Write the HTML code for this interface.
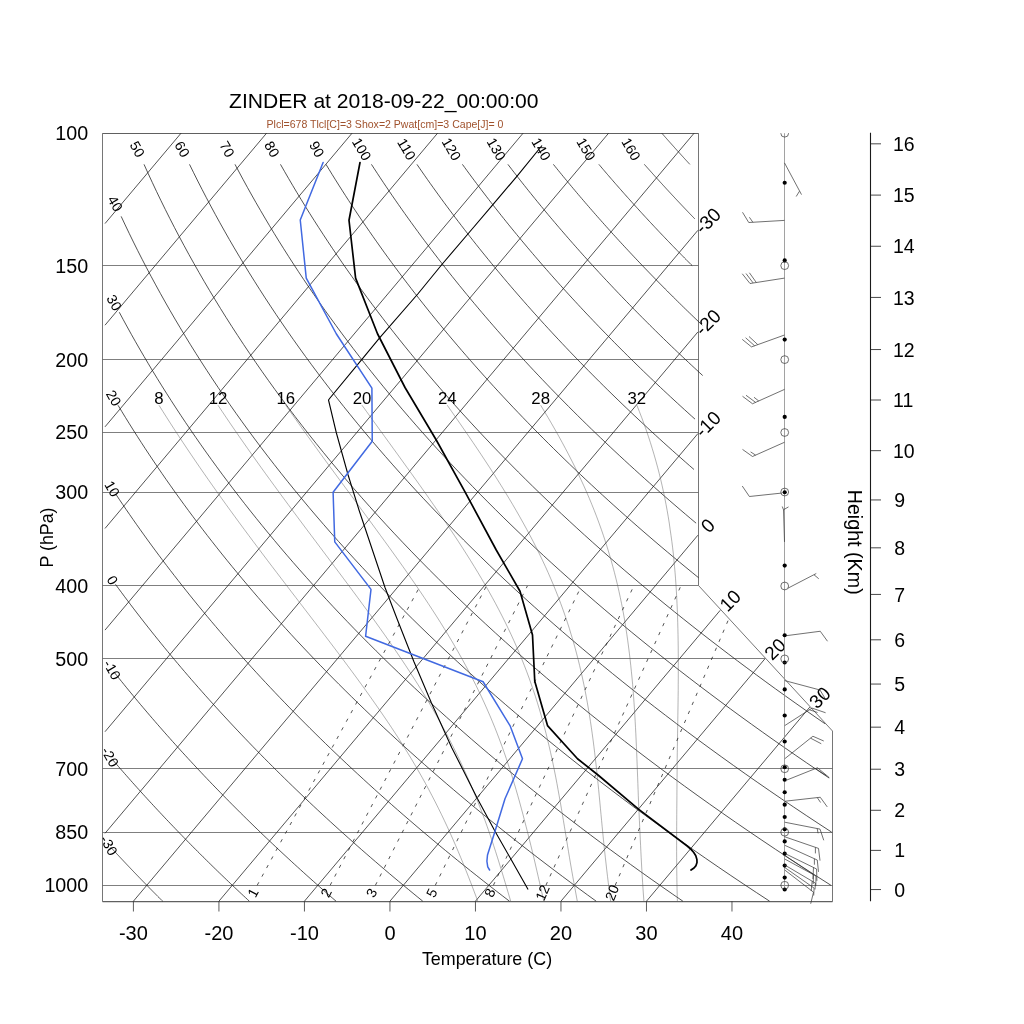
<!DOCTYPE html>
<html><head><meta charset="utf-8"><title>Skew-T</title><style>html,body{margin:0;padding:0;background:#fff;width:1024px;height:1024px;overflow:hidden}svg text{font-family:"Liberation Sans",sans-serif}svg text{filter:grayscale(1)}svg text.c{filter:brightness(1)}</style></head><body>
<svg width="1024" height="1024" viewBox="0 0 1024 1024" style="position:absolute;left:0;top:0;font-family:'Liberation Sans',sans-serif">
<path d="M102.50,901.50 L102.50,133.50 L698.50,133.50 L698.50,585.50 L832.50,731.03 L832.50,901.50 L102.50,901.50" fill="none" stroke="#666" stroke-width="0.9"/>
<path d="M102.50,901.75 L832.50,901.75" fill="none" stroke="#555" stroke-width="0.9"/>
<path d="M102.50,885.50 L832.50,885.50" fill="none" stroke="#5a5a5a" stroke-width="0.78"/>
<text x="88.20" y="885.26" font-size="19.7" text-anchor="end" fill="#000" dominant-baseline="central">1000</text>
<path d="M102.50,832.50 L832.50,832.50" fill="none" stroke="#5a5a5a" stroke-width="0.78"/>
<text x="88.20" y="832.18" font-size="19.7" text-anchor="end" fill="#000" dominant-baseline="central">850</text>
<path d="M102.50,768.50 L832.50,768.50" fill="none" stroke="#5a5a5a" stroke-width="0.78"/>
<text x="88.20" y="768.77" font-size="19.7" text-anchor="end" fill="#000" dominant-baseline="central">700</text>
<path d="M102.50,658.50 L764.88,658.50" fill="none" stroke="#5a5a5a" stroke-width="0.78"/>
<text x="88.20" y="658.88" font-size="19.7" text-anchor="end" fill="#000" dominant-baseline="central">500</text>
<path d="M102.50,585.50 L698.50,585.50" fill="none" stroke="#5a5a5a" stroke-width="0.78"/>
<text x="88.20" y="585.99" font-size="19.7" text-anchor="end" fill="#000" dominant-baseline="central">400</text>
<path d="M102.50,492.50 L698.50,492.50" fill="none" stroke="#5a5a5a" stroke-width="0.78"/>
<text x="88.20" y="492.03" font-size="19.7" text-anchor="end" fill="#000" dominant-baseline="central">300</text>
<path d="M102.50,432.50 L698.50,432.50" fill="none" stroke="#5a5a5a" stroke-width="0.78"/>
<text x="88.20" y="432.49" font-size="19.7" text-anchor="end" fill="#000" dominant-baseline="central">250</text>
<path d="M102.50,359.50 L698.50,359.50" fill="none" stroke="#5a5a5a" stroke-width="0.78"/>
<text x="88.20" y="359.61" font-size="19.7" text-anchor="end" fill="#000" dominant-baseline="central">200</text>
<path d="M102.50,265.50 L698.50,265.50" fill="none" stroke="#5a5a5a" stroke-width="0.78"/>
<text x="88.20" y="265.65" font-size="19.7" text-anchor="end" fill="#000" dominant-baseline="central">150</text>
<path d="M102.50,133.50 L698.50,133.50" fill="none" stroke="#5a5a5a" stroke-width="0.78"/>
<text x="88.20" y="133.22" font-size="19.7" text-anchor="end" fill="#000" dominant-baseline="central">100</text>
<path d="M105.00,223.57 L181.04,133.20" fill="none" stroke="#1a1a1a" stroke-width="0.75"/>
<path d="M105.00,325.20 L266.55,133.20" fill="none" stroke="#1a1a1a" stroke-width="0.75"/>
<path d="M105.00,426.83 L352.06,133.20" fill="none" stroke="#1a1a1a" stroke-width="0.75"/>
<path d="M105.00,528.46 L437.57,133.20" fill="none" stroke="#1a1a1a" stroke-width="0.75"/>
<path d="M105.00,630.09 L523.08,133.20" fill="none" stroke="#1a1a1a" stroke-width="0.75"/>
<path d="M105.00,731.72 L608.59,133.20" fill="none" stroke="#1a1a1a" stroke-width="0.75"/>
<path d="M105.00,833.34 L694.10,133.20" fill="none" stroke="#1a1a1a" stroke-width="0.75"/>
<path d="M133.42,901.20 L697.90,230.31" fill="none" stroke="#1a1a1a" stroke-width="0.75"/>
<text x="707.90" y="220.81" font-size="19" text-anchor="middle" fill="#000" dominant-baseline="central" transform="rotate(-45.0 707.90 220.81)">-30</text>
<path d="M218.93,901.20 L697.90,331.94" fill="none" stroke="#1a1a1a" stroke-width="0.75"/>
<text x="707.90" y="322.44" font-size="19" text-anchor="middle" fill="#000" dominant-baseline="central" transform="rotate(-45.0 707.90 322.44)">-20</text>
<path d="M304.44,901.20 L697.90,433.57" fill="none" stroke="#1a1a1a" stroke-width="0.75"/>
<text x="707.90" y="424.07" font-size="19" text-anchor="middle" fill="#000" dominant-baseline="central" transform="rotate(-45.0 707.90 424.07)">-10</text>
<path d="M389.95,901.20 L697.90,535.19" fill="none" stroke="#1a1a1a" stroke-width="0.75"/>
<text x="707.90" y="525.69" font-size="19" text-anchor="middle" fill="#000" dominant-baseline="central" transform="rotate(-45.0 707.90 525.69)">0</text>
<path d="M475.46,901.20 L720.27,610.24" fill="none" stroke="#1a1a1a" stroke-width="0.75"/>
<text x="730.27" y="600.74" font-size="19" text-anchor="middle" fill="#000" dominant-baseline="central" transform="rotate(-45.0 730.27 600.74)">10</text>
<path d="M560.96,901.20 L765.04,658.66" fill="none" stroke="#1a1a1a" stroke-width="0.75"/>
<text x="775.04" y="649.16" font-size="19" text-anchor="middle" fill="#000" dominant-baseline="central" transform="rotate(-45.0 775.04 649.16)">20</text>
<path d="M646.47,901.20 L809.80,707.08" fill="none" stroke="#1a1a1a" stroke-width="0.75"/>
<text x="819.80" y="697.58" font-size="19" text-anchor="middle" fill="#000" dominant-baseline="central" transform="rotate(-45.0 819.80 697.58)">30</text>
<path d="M110.69,847.20 L111.32,847.88 L111.94,848.55 L112.56,849.23 L113.18,849.90 L113.81,850.58 L114.43,851.25 L115.06,851.93 L115.68,852.60 L116.31,853.28 L116.94,853.95 L117.56,854.63 L118.19,855.30 L118.82,855.98 L119.45,856.65 L120.08,857.33 L120.72,858.00 L121.35,858.68 L121.98,859.35 L122.61,860.03 L123.25,860.70 L123.88,861.38 L124.52,862.05 L125.16,862.73 L125.79,863.40 L126.43,864.08 L127.07,864.75 L127.71,865.43 L128.35,866.10 L128.99,866.78 L129.63,867.45 L130.28,868.13 L130.92,868.80 L131.56,869.48 L132.21,870.15 L132.85,870.83 L133.50,871.50 L134.14,872.18 L134.79,872.85 L135.44,873.53 L136.09,874.20 L136.74,874.88 L137.39,875.55 L138.04,876.23 L138.69,876.90 L139.34,877.58 L140.00,878.25 L140.65,878.93 L141.30,879.60 L141.96,880.28 L142.62,880.95 L143.27,881.63 L143.93,882.30 L144.59,882.98 L145.25,883.65 L145.91,884.33 L146.57,885.00 L147.23,885.68 L147.89,886.35 L148.55,887.03 L149.21,887.70 L149.88,888.38 L150.54,889.05 L151.21,889.73 L151.87,890.40 L152.54,891.08 L153.21,891.75 L153.88,892.43 L154.55,893.10 L155.22,893.78 L155.89,894.45 L156.56,895.13 L157.23,895.80 L157.90,896.48 L158.58,897.15 L159.25,897.83 L159.93,898.50 L160.60,899.18 L161.28,899.85 L161.95,900.53 L162.63,901.20" fill="none" stroke="#1a1a1a" stroke-width="0.75"/>
<text x="109.01" y="845.36" font-size="14.1" text-anchor="middle" fill="#000" dominant-baseline="central" transform="rotate(60.0 109.01 845.36)">-30</text>
<path d="M112.25,759.30 L113.77,761.08 L115.30,762.85 L116.83,764.62 L118.36,766.40 L119.90,768.17 L121.45,769.95 L123.00,771.72 L124.55,773.49 L126.11,775.27 L127.67,777.04 L129.24,778.81 L130.81,780.59 L132.39,782.36 L133.97,784.14 L135.56,785.91 L137.15,787.68 L138.75,789.46 L140.35,791.23 L141.96,793.00 L143.57,794.78 L145.18,796.55 L146.80,798.32 L148.43,800.10 L150.06,801.87 L151.70,803.65 L153.34,805.42 L154.98,807.19 L156.63,808.97 L158.29,810.74 L159.95,812.51 L161.61,814.29 L163.28,816.06 L164.95,817.84 L166.63,819.61 L168.32,821.38 L170.01,823.16 L171.70,824.93 L173.40,826.70 L175.11,828.48 L176.81,830.25 L178.53,832.03 L180.25,833.80 L181.97,835.57 L183.70,837.35 L185.44,839.12 L187.17,840.89 L188.92,842.67 L190.67,844.44 L192.42,846.22 L194.18,847.99 L195.95,849.76 L197.71,851.54 L199.49,853.31 L201.27,855.08 L203.05,856.86 L204.84,858.63 L206.64,860.40 L208.44,862.18 L210.24,863.95 L212.05,865.73 L213.87,867.50 L215.69,869.27 L217.51,871.05 L219.34,872.82 L221.18,874.59 L223.02,876.37 L224.87,878.14 L226.72,879.92 L228.58,881.69 L230.44,883.46 L232.30,885.24 L234.18,887.01 L236.05,888.78 L237.94,890.56 L239.82,892.33 L241.72,894.11 L243.62,895.88 L245.52,897.65 L247.43,899.43 L249.34,901.20" fill="none" stroke="#1a1a1a" stroke-width="0.75"/>
<text x="110.19" y="756.89" font-size="14.1" text-anchor="middle" fill="#000" dominant-baseline="central" transform="rotate(60.0 110.19 756.89)">-20</text>
<path d="M114.72,672.94 L116.99,675.79 L119.27,678.65 L121.57,681.50 L123.88,684.35 L126.20,687.21 L128.53,690.06 L130.88,692.91 L133.23,695.77 L135.60,698.62 L137.98,701.47 L140.37,704.33 L142.77,707.18 L145.19,710.03 L147.62,712.89 L150.06,715.74 L152.51,718.59 L154.97,721.44 L157.45,724.30 L159.94,727.15 L162.44,730.00 L164.95,732.86 L167.48,735.71 L170.01,738.56 L172.56,741.42 L175.13,744.27 L177.70,747.12 L180.29,749.98 L182.89,752.83 L185.50,755.68 L188.12,758.54 L190.76,761.39 L193.41,764.24 L196.07,767.10 L198.75,769.95 L201.44,772.80 L204.14,775.66 L206.85,778.51 L209.57,781.36 L212.31,784.22 L215.07,787.07 L217.83,789.92 L220.61,792.78 L223.40,795.63 L226.20,798.48 L229.02,801.34 L231.85,804.19 L234.69,807.04 L237.55,809.90 L240.41,812.75 L243.30,815.60 L246.19,818.46 L249.10,821.31 L252.02,824.16 L254.96,827.02 L257.91,829.87 L260.87,832.72 L263.84,835.58 L266.83,838.43 L269.83,841.28 L272.85,844.13 L275.88,846.99 L278.92,849.84 L281.98,852.69 L285.05,855.55 L288.13,858.40 L291.23,861.25 L294.34,864.11 L297.47,866.96 L300.60,869.81 L303.76,872.67 L306.92,875.52 L310.10,878.37 L313.30,881.23 L316.51,884.08 L319.73,886.93 L322.97,889.79 L326.22,892.64 L329.48,895.49 L332.76,898.35 L336.05,901.20" fill="none" stroke="#1a1a1a" stroke-width="0.75"/>
<text x="112.23" y="669.80" font-size="14.1" text-anchor="middle" fill="#000" dominant-baseline="central" transform="rotate(60.0 112.23 669.80)">-10</text>
<path d="M115.50,584.36 L118.40,588.32 L121.33,592.28 L124.27,596.24 L127.24,600.20 L130.23,604.16 L133.24,608.12 L136.28,612.08 L139.33,616.04 L142.41,620.00 L145.51,623.96 L148.63,627.92 L151.78,631.88 L154.94,635.84 L158.13,639.81 L161.35,643.77 L164.58,647.73 L167.84,651.69 L171.12,655.65 L174.43,659.61 L177.75,663.57 L181.10,667.53 L184.48,671.49 L187.87,675.45 L191.29,679.41 L194.74,683.37 L198.21,687.33 L201.70,691.29 L205.21,695.25 L208.75,699.21 L212.31,703.17 L215.90,707.13 L219.51,711.09 L223.14,715.06 L226.80,719.02 L230.48,722.98 L234.19,726.94 L237.92,730.90 L241.68,734.86 L245.46,738.82 L249.26,742.78 L253.09,746.74 L256.95,750.70 L260.83,754.66 L264.73,758.62 L268.66,762.58 L272.62,766.54 L276.60,770.50 L280.61,774.46 L284.64,778.42 L288.70,782.38 L292.78,786.34 L296.89,790.31 L301.02,794.27 L305.18,798.23 L309.37,802.19 L313.58,806.15 L317.82,810.11 L322.09,814.07 L326.38,818.03 L330.70,821.99 L335.04,825.95 L339.41,829.91 L343.81,833.87 L348.24,837.83 L352.69,841.79 L357.17,845.75 L361.67,849.71 L366.21,853.67 L370.77,857.63 L375.36,861.59 L379.97,865.56 L384.61,869.52 L389.29,873.48 L393.98,877.44 L398.71,881.40 L403.47,885.36 L408.25,889.32 L413.06,893.28 L417.90,897.24 L422.77,901.20" fill="none" stroke="#1a1a1a" stroke-width="0.75"/>
<text x="112.50" y="580.23" font-size="14.1" text-anchor="middle" fill="#000" dominant-baseline="central" transform="rotate(60.0 112.50 580.23)">0</text>
<path d="M115.84,494.21 L119.24,499.29 L122.67,504.38 L126.13,509.47 L129.63,514.55 L133.16,519.64 L136.73,524.73 L140.33,529.82 L143.97,534.90 L147.64,539.99 L151.35,545.08 L155.10,550.17 L158.88,555.25 L162.70,560.34 L166.55,565.43 L170.44,570.52 L174.36,575.60 L178.33,580.69 L182.32,585.78 L186.36,590.87 L190.43,595.95 L194.54,601.04 L198.69,606.13 L202.88,611.22 L207.10,616.30 L211.36,621.39 L215.66,626.48 L220.00,631.57 L224.38,636.65 L228.79,641.74 L233.24,646.83 L237.74,651.92 L242.27,657.00 L246.84,662.09 L251.45,667.18 L256.10,672.27 L260.79,677.35 L265.52,682.44 L270.29,687.53 L275.10,692.62 L279.95,697.70 L284.85,702.79 L289.78,707.88 L294.75,712.96 L299.77,718.05 L304.83,723.14 L309.93,728.23 L315.07,733.31 L320.25,738.40 L325.48,743.49 L330.74,748.58 L336.05,753.66 L341.41,758.75 L346.80,763.84 L352.24,768.93 L357.72,774.01 L363.25,779.10 L368.82,784.19 L374.43,789.28 L380.09,794.36 L385.80,799.45 L391.54,804.54 L397.33,809.63 L403.17,814.71 L409.05,819.80 L414.98,824.89 L420.95,829.98 L426.97,835.06 L433.04,840.15 L439.15,845.24 L445.31,850.33 L451.51,855.41 L457.76,860.50 L464.06,865.59 L470.40,870.68 L476.80,875.76 L483.24,880.85 L489.72,885.94 L496.26,891.03 L502.84,896.11 L509.48,901.20" fill="none" stroke="#1a1a1a" stroke-width="0.75"/>
<text x="112.24" y="488.75" font-size="14.1" text-anchor="middle" fill="#000" dominant-baseline="central" transform="rotate(60.0 112.24 488.75)">10</text>
<path d="M118.03,405.25 L121.77,411.45 L125.57,417.65 L129.41,423.85 L133.30,430.05 L137.25,436.25 L141.24,442.45 L145.28,448.65 L149.38,454.85 L153.52,461.05 L157.72,467.25 L161.96,473.45 L166.26,479.65 L170.61,485.84 L175.01,492.04 L179.46,498.24 L183.97,504.44 L188.53,510.64 L193.14,516.84 L197.81,523.04 L202.53,529.24 L207.30,535.44 L212.13,541.64 L217.01,547.84 L221.95,554.04 L226.95,560.24 L232.00,566.44 L237.10,572.64 L242.26,578.83 L247.48,585.03 L252.75,591.23 L258.08,597.43 L263.47,603.63 L268.92,609.83 L274.42,616.03 L279.99,622.23 L285.61,628.43 L291.29,634.63 L297.03,640.83 L302.83,647.03 L308.69,653.23 L314.61,659.43 L320.59,665.63 L326.63,671.82 L332.73,678.02 L338.90,684.22 L345.12,690.42 L351.41,696.62 L357.76,702.82 L364.18,709.02 L370.65,715.22 L377.19,721.42 L383.80,727.62 L390.47,733.82 L397.20,740.02 L404.00,746.22 L410.87,752.42 L417.80,758.62 L424.79,764.81 L431.86,771.01 L438.98,777.21 L446.18,783.41 L453.45,789.61 L460.78,795.81 L468.18,802.01 L475.65,808.21 L483.19,814.41 L490.79,820.61 L498.47,826.81 L506.22,833.01 L514.04,839.21 L521.93,845.41 L529.89,851.61 L537.92,857.80 L546.03,864.00 L554.20,870.20 L562.45,876.40 L570.78,882.60 L579.17,888.80 L587.64,895.00 L596.19,901.20" fill="none" stroke="#1a1a1a" stroke-width="0.75"/>
<text x="113.75" y="398.08" font-size="14.1" text-anchor="middle" fill="#000" dominant-baseline="central" transform="rotate(60.0 113.75 398.08)">20</text>
<path d="M119.27,312.24 L123.23,319.60 L127.25,326.96 L131.34,334.33 L135.49,341.69 L139.71,349.05 L144.00,356.41 L148.36,363.77 L152.78,371.14 L157.27,378.50 L161.84,385.86 L166.47,393.22 L171.17,400.58 L175.94,407.95 L180.79,415.31 L185.70,422.67 L190.69,430.03 L195.75,437.39 L200.88,444.76 L206.09,452.12 L211.36,459.48 L216.72,466.84 L222.14,474.20 L227.65,481.57 L233.23,488.93 L238.88,496.29 L244.61,503.65 L250.42,511.01 L256.31,518.38 L262.27,525.74 L268.31,533.10 L274.44,540.46 L280.64,547.82 L286.92,555.19 L293.28,562.55 L299.72,569.91 L306.25,577.27 L312.86,584.63 L319.55,592.00 L326.32,599.36 L333.18,606.72 L340.12,614.08 L347.15,621.44 L354.26,628.81 L361.46,636.17 L368.75,643.53 L376.12,650.89 L383.58,658.25 L391.13,665.62 L398.76,672.98 L406.49,680.34 L414.31,687.70 L422.21,695.06 L430.21,702.43 L438.30,709.79 L446.49,717.15 L454.76,724.51 L463.13,731.87 L471.60,739.24 L480.15,746.60 L488.81,753.96 L497.56,761.32 L506.40,768.68 L515.35,776.05 L524.39,783.41 L533.53,790.77 L542.77,798.13 L552.11,805.49 L561.55,812.86 L571.09,820.22 L580.73,827.58 L590.48,834.94 L600.32,842.30 L610.28,849.67 L620.33,857.03 L630.49,864.39 L640.76,871.75 L651.13,879.11 L661.61,886.48 L672.20,893.84 L682.90,901.20" fill="none" stroke="#1a1a1a" stroke-width="0.75"/>
<text x="114.22" y="302.66" font-size="14.1" text-anchor="middle" fill="#000" dominant-baseline="central" transform="rotate(60.0 114.22 302.66)">30</text>
<path d="M121.17,216.39 L125.18,224.95 L129.28,233.51 L133.46,242.07 L137.73,250.63 L142.09,259.19 L146.53,267.75 L151.06,276.31 L155.68,284.87 L160.38,293.43 L165.18,301.99 L170.07,310.55 L175.04,319.11 L180.11,327.67 L185.27,336.23 L190.53,344.79 L195.88,353.35 L201.32,361.91 L206.86,370.47 L212.49,379.03 L218.22,387.59 L224.05,396.15 L229.98,404.71 L236.00,413.27 L242.13,421.83 L248.35,430.39 L254.68,438.95 L261.10,447.51 L267.63,456.07 L274.27,464.63 L281.00,473.19 L287.84,481.75 L294.79,490.31 L301.85,498.87 L309.01,507.43 L316.28,515.99 L323.66,524.55 L331.14,533.11 L338.74,541.67 L346.45,550.23 L354.27,558.79 L362.21,567.35 L370.26,575.91 L378.42,584.47 L386.70,593.03 L395.10,601.59 L403.61,610.15 L412.24,618.71 L420.99,627.27 L429.86,635.83 L438.86,644.39 L447.97,652.95 L457.21,661.52 L466.57,670.08 L476.05,678.64 L485.66,687.20 L495.40,695.76 L505.26,704.32 L515.25,712.88 L525.38,721.44 L535.63,730.00 L546.01,738.56 L556.53,747.12 L567.18,755.68 L577.96,764.24 L588.88,772.80 L599.93,781.36 L611.13,789.92 L622.46,798.48 L633.93,807.04 L645.54,815.60 L657.29,824.16 L669.19,832.72 L681.23,841.28 L693.41,849.84 L705.74,858.40 L718.21,866.96 L730.84,875.52 L743.61,884.08 L756.54,892.64 L769.61,901.20" fill="none" stroke="#1a1a1a" stroke-width="0.75"/>
<text x="115.27" y="203.47" font-size="14.1" text-anchor="middle" fill="#000" dominant-baseline="central" transform="rotate(60.0 115.27 203.47)">40</text>
<path d="M144.03,164.35 L148.09,173.36 L152.25,182.37 L156.49,191.38 L160.83,200.39 L165.27,209.40 L169.80,218.42 L174.43,227.43 L179.15,236.44 L183.97,245.45 L188.89,254.46 L193.91,263.47 L199.03,272.48 L204.24,281.50 L209.56,290.51 L214.99,299.52 L220.51,308.53 L226.14,317.54 L231.87,326.55 L237.71,335.56 L243.66,344.58 L249.71,353.59 L255.87,362.60 L262.14,371.61 L268.52,380.62 L275.01,389.63 L281.61,398.64 L288.32,407.66 L295.15,416.67 L302.09,425.68 L309.15,434.69 L316.32,443.70 L323.61,452.71 L331.01,461.73 L338.54,470.74 L346.19,479.75 L353.95,488.76 L361.84,497.77 L369.85,506.78 L377.98,515.79 L386.24,524.81 L394.62,533.82 L403.13,542.83 L411.77,551.84 L420.54,560.85 L429.43,569.86 L438.46,578.87 L447.61,587.89 L456.91,596.90 L466.33,605.91 L475.89,614.92 L485.58,623.93 L495.41,632.94 L505.38,641.95 L515.49,650.97 L525.74,659.98 L536.13,668.99 L546.66,678.00 L557.34,687.01 L568.16,696.02 L579.12,705.04 L590.23,714.05 L601.50,723.06 L612.91,732.07 L624.47,741.08 L636.18,750.09 L648.04,759.10 L660.06,768.12 L672.24,777.13 L684.57,786.14 L697.06,795.15 L709.71,804.16 L722.51,813.17 L735.48,822.18 L748.62,831.20 L761.91,840.21 L775.37,849.22 L789.00,858.23 L802.80,867.24 L816.77,876.25 L830.90,885.26" fill="none" stroke="#1a1a1a" stroke-width="0.75"/>
<text x="137.39" y="149.15" font-size="14.1" text-anchor="middle" fill="#000" dominant-baseline="central" transform="rotate(60.0 137.39 149.15)">50</text>
<path d="M189.51,164.35 L193.61,172.69 L197.78,181.04 L202.04,189.39 L206.38,197.74 L210.80,206.09 L215.31,214.43 L219.90,222.78 L224.58,231.13 L229.34,239.48 L234.19,247.83 L239.13,256.17 L244.15,264.52 L249.26,272.87 L254.47,281.22 L259.76,289.57 L265.14,297.91 L270.61,306.26 L276.18,314.61 L281.83,322.96 L287.58,331.31 L293.43,339.65 L299.36,348.00 L305.40,356.35 L311.53,364.70 L317.75,373.05 L324.07,381.39 L330.49,389.74 L337.01,398.09 L343.63,406.44 L350.35,414.79 L357.17,423.13 L364.09,431.48 L371.11,439.83 L378.24,448.18 L385.47,456.53 L392.81,464.87 L400.25,473.22 L407.79,481.57 L415.45,489.92 L423.21,498.27 L431.08,506.61 L439.05,514.96 L447.14,523.31 L455.34,531.66 L463.65,540.01 L472.08,548.35 L480.61,556.70 L489.26,565.05 L498.03,573.40 L506.91,581.75 L515.91,590.09 L525.03,598.44 L534.26,606.79 L543.62,615.14 L553.09,623.48 L562.69,631.83 L572.40,640.18 L582.24,648.53 L592.21,656.88 L602.29,665.22 L612.51,673.57 L622.85,681.92 L633.32,690.27 L643.91,698.62 L654.64,706.96 L665.49,715.31 L676.48,723.66 L687.60,732.01 L698.85,740.36 L710.24,748.70 L721.76,757.05 L733.42,765.40 L745.21,773.75 L757.14,782.10 L769.21,790.44 L781.42,798.79 L793.78,807.14 L806.27,815.49 L818.91,823.84 L831.69,832.18" fill="none" stroke="#1a1a1a" stroke-width="0.75"/>
<text x="182.27" y="149.15" font-size="14.1" text-anchor="middle" fill="#000" dominant-baseline="central" transform="rotate(60.0 182.27 149.15)">60</text>
<path d="M235.00,164.35 L239.06,172.02 L243.20,179.69 L247.40,187.36 L251.68,195.03 L256.03,202.70 L260.46,210.37 L264.96,218.04 L269.53,225.71 L274.17,233.38 L278.89,241.05 L283.69,248.72 L288.56,256.39 L293.51,264.06 L298.53,271.73 L303.63,279.40 L308.81,287.07 L314.07,294.74 L319.41,302.41 L324.82,310.08 L330.32,317.75 L335.90,325.42 L341.55,333.09 L347.29,340.76 L353.11,348.43 L359.02,356.10 L365.01,363.77 L371.08,371.44 L377.23,379.12 L383.47,386.79 L389.80,394.46 L396.21,402.13 L402.71,409.80 L409.30,417.47 L415.97,425.14 L422.74,432.81 L429.59,440.48 L436.53,448.15 L443.56,455.82 L450.69,463.49 L457.90,471.16 L465.21,478.83 L472.61,486.50 L480.10,494.17 L487.69,501.84 L495.37,509.51 L503.14,517.18 L511.02,524.85 L518.98,532.52 L527.05,540.19 L535.21,547.86 L543.48,555.53 L551.84,563.20 L560.30,570.87 L568.86,578.54 L577.52,586.21 L586.29,593.88 L595.16,601.55 L604.13,609.22 L613.20,616.90 L622.38,624.57 L631.67,632.24 L641.06,639.91 L650.56,647.58 L660.16,655.25 L669.87,662.92 L679.70,670.59 L689.63,678.26 L699.67,685.93 L709.83,693.60 L720.09,701.27 L730.47,708.94 L740.96,716.61 L751.57,724.28 L762.29,731.95 L773.12,739.62 L784.08,747.29 L795.15,754.96 L806.34,762.63 L817.64,770.30 L829.07,777.97" fill="none" stroke="#1a1a1a" stroke-width="0.75"/>
<text x="227.15" y="149.15" font-size="14.1" text-anchor="middle" fill="#000" dominant-baseline="central" transform="rotate(60.0 227.15 149.15)">70</text>
<path d="M280.48,164.35 L284.46,171.34 L288.51,178.33 L292.61,185.33 L296.78,192.32 L301.00,199.31 L305.29,206.31 L309.64,213.30 L314.06,220.29 L318.54,227.29 L323.08,234.28 L327.68,241.27 L332.35,248.27 L337.09,255.26 L341.89,262.25 L346.75,269.25 L351.69,276.24 L356.68,283.24 L361.75,290.23 L366.88,297.22 L372.08,304.22 L377.35,311.21 L382.69,318.20 L388.09,325.20 L393.57,332.19 L399.11,339.18 L404.73,346.18 L410.41,353.17 L416.17,360.16 L422.00,367.16 L427.90,374.15 L433.87,381.14 L439.91,388.14 L446.03,395.13 L452.22,402.12 L458.49,409.12 L464.83,416.11 L471.25,423.10 L477.74,430.10 L484.31,437.09 L490.95,444.08 L497.67,451.08 L504.47,458.07 L511.35,465.06 L518.30,472.06 L525.33,479.05 L532.45,486.05 L539.64,493.04 L546.91,500.03 L554.27,507.03 L561.70,514.02 L569.22,521.01 L576.82,528.01 L584.50,535.00 L592.27,541.99 L600.12,548.99 L608.05,555.98 L616.07,562.97 L624.17,569.97 L632.36,576.96 L640.64,583.95 L649.00,590.95 L657.45,597.94 L665.99,604.93 L674.62,611.93 L683.34,618.92 L692.14,625.91 L701.04,632.91 L710.03,639.90 L719.11,646.89 L728.28,653.89 L737.54,660.88 L746.90,667.87 L756.35,674.87 L765.89,681.86 L775.53,688.86 L785.27,695.85 L795.10,702.84 L805.02,709.84 L815.05,716.83 L825.17,723.82" fill="none" stroke="#1a1a1a" stroke-width="0.75"/>
<text x="272.04" y="149.15" font-size="14.1" text-anchor="middle" fill="#000" dominant-baseline="central" transform="rotate(60.0 272.04 149.15)">80</text>
<path d="M325.97,164.35 L329.11,169.51 L332.28,174.68 L335.50,179.85 L338.74,185.02 L342.02,190.18 L345.34,195.35 L348.68,200.52 L352.07,205.68 L355.49,210.85 L358.94,216.02 L362.43,221.19 L365.96,226.35 L369.52,231.52 L373.11,236.69 L376.75,241.85 L380.42,247.02 L384.12,252.19 L387.86,257.36 L391.64,262.52 L395.46,267.69 L399.31,272.86 L403.20,278.03 L407.13,283.19 L411.09,288.36 L415.09,293.53 L419.13,298.69 L423.21,303.86 L427.33,309.03 L431.48,314.20 L435.68,319.36 L439.91,324.53 L444.18,329.70 L448.49,334.87 L452.84,340.03 L457.23,345.20 L461.65,350.37 L466.12,355.53 L470.63,360.70 L475.18,365.87 L479.77,371.04 L484.40,376.20 L489.07,381.37 L493.78,386.54 L498.53,391.71 L503.32,396.87 L508.16,402.04 L513.03,407.21 L517.95,412.37 L522.91,417.54 L527.91,422.71 L532.96,427.88 L538.04,433.04 L543.17,438.21 L548.35,443.38 L553.56,448.54 L558.82,453.71 L564.13,458.88 L569.47,464.05 L574.86,469.21 L580.30,474.38 L585.78,479.55 L591.30,484.72 L596.87,489.88 L602.48,495.05 L608.14,500.22 L613.85,505.38 L619.60,510.55 L625.39,515.72 L631.23,520.89 L637.12,526.05 L643.06,531.22 L649.04,536.39 L655.06,541.56 L661.14,546.72 L667.26,551.89 L673.43,557.06 L679.65,562.22 L685.91,567.39 L692.23,572.56 L698.59,577.73" fill="none" stroke="#1a1a1a" stroke-width="0.75"/>
<text x="316.92" y="149.15" font-size="14.1" text-anchor="middle" fill="#000" dominant-baseline="central" transform="rotate(60.0 316.92 149.15)">90</text>
<path d="M371.45,164.35 L374.35,168.83 L377.29,173.32 L380.24,177.80 L383.23,182.29 L386.24,186.77 L389.28,191.26 L392.34,195.74 L395.43,200.23 L398.55,204.71 L401.70,209.20 L404.87,213.68 L408.07,218.17 L411.30,222.65 L414.55,227.14 L417.83,231.62 L421.14,236.11 L424.48,240.60 L427.85,245.08 L431.24,249.57 L434.67,254.05 L438.12,258.54 L441.60,263.02 L445.10,267.51 L448.64,271.99 L452.21,276.48 L455.80,280.96 L459.42,285.45 L463.08,289.93 L466.76,294.42 L470.47,298.90 L474.21,303.39 L477.98,307.87 L481.78,312.36 L485.61,316.84 L489.47,321.33 L493.36,325.81 L497.28,330.30 L501.23,334.78 L505.21,339.27 L509.22,343.76 L513.26,348.24 L517.33,352.73 L521.43,357.21 L525.57,361.70 L529.73,366.18 L533.93,370.67 L538.16,375.15 L542.41,379.64 L546.71,384.12 L551.03,388.61 L555.38,393.09 L559.77,397.58 L564.19,402.06 L568.64,406.55 L573.12,411.03 L577.64,415.52 L582.18,420.00 L586.77,424.49 L591.38,428.97 L596.03,433.46 L600.71,437.94 L605.42,442.43 L610.17,446.92 L614.95,451.40 L619.76,455.89 L624.61,460.37 L629.49,464.86 L634.41,469.34 L639.36,473.83 L644.34,478.31 L649.36,482.80 L654.41,487.28 L659.50,491.77 L664.62,496.25 L669.78,500.74 L674.97,505.22 L680.20,509.71 L685.46,514.19 L690.76,518.68 L696.10,523.16" fill="none" stroke="#1a1a1a" stroke-width="0.75"/>
<text x="361.80" y="149.15" font-size="14.1" text-anchor="middle" fill="#000" dominant-baseline="central" transform="rotate(60.0 361.80 149.15)">100</text>
<path d="M416.93,164.35 L419.55,168.16 L422.19,171.98 L424.85,175.79 L427.53,179.60 L430.23,183.42 L432.95,187.23 L435.69,191.05 L438.45,194.86 L441.23,198.68 L444.03,202.49 L446.85,206.31 L449.69,210.12 L452.55,213.93 L455.43,217.75 L458.33,221.56 L461.25,225.38 L464.19,229.19 L467.15,233.01 L470.13,236.82 L473.14,240.64 L476.16,244.45 L479.21,248.26 L482.27,252.08 L485.36,255.89 L488.47,259.71 L491.60,263.52 L494.75,267.34 L497.92,271.15 L501.11,274.96 L504.32,278.78 L507.56,282.59 L510.82,286.41 L514.10,290.22 L517.40,294.04 L520.72,297.85 L524.06,301.67 L527.43,305.48 L530.82,309.29 L534.23,313.11 L537.66,316.92 L541.12,320.74 L544.59,324.55 L548.09,328.37 L551.61,332.18 L555.16,336.00 L558.72,339.81 L562.31,343.62 L565.93,347.44 L569.56,351.25 L573.22,355.07 L576.90,358.88 L580.60,362.70 L584.33,366.51 L588.08,370.33 L591.86,374.14 L595.65,377.95 L599.47,381.77 L603.32,385.58 L607.18,389.40 L611.08,393.21 L614.99,397.03 L618.93,400.84 L622.89,404.66 L626.88,408.47 L630.89,412.28 L634.92,416.10 L638.98,419.91 L643.07,423.73 L647.18,427.54 L651.31,431.36 L655.46,435.17 L659.65,438.99 L663.85,442.80 L668.08,446.61 L672.34,450.43 L676.62,454.24 L680.93,458.06 L685.26,461.87 L689.62,465.69 L694.00,469.50" fill="none" stroke="#1a1a1a" stroke-width="0.75"/>
<text x="406.68" y="149.15" font-size="14.1" text-anchor="middle" fill="#000" dominant-baseline="central" transform="rotate(60.0 406.68 149.15)">110</text>
<path d="M462.42,164.35 L464.73,167.53 L467.06,170.72 L469.40,173.90 L471.76,177.09 L474.13,180.27 L476.51,183.46 L478.91,186.64 L481.32,189.83 L483.75,193.01 L486.19,196.20 L488.65,199.38 L491.12,202.57 L493.60,205.75 L496.10,208.94 L498.61,212.12 L501.14,215.31 L503.68,218.49 L506.24,221.68 L508.81,224.86 L511.40,228.05 L514.00,231.23 L516.62,234.42 L519.25,237.60 L521.89,240.79 L524.55,243.97 L527.23,247.16 L529.92,250.34 L532.62,253.53 L535.34,256.71 L538.08,259.90 L540.83,263.08 L543.59,266.27 L546.37,269.45 L549.17,272.64 L551.98,275.82 L554.81,279.01 L557.65,282.19 L560.51,285.38 L563.38,288.57 L566.27,291.75 L569.17,294.94 L572.09,298.12 L575.03,301.31 L577.98,304.49 L580.94,307.68 L583.92,310.86 L586.92,314.05 L589.94,317.23 L592.97,320.42 L596.01,323.60 L599.07,326.79 L602.15,329.97 L605.25,333.16 L608.36,336.34 L611.48,339.53 L614.62,342.71 L617.78,345.90 L620.96,349.08 L624.15,352.27 L627.36,355.45 L630.58,358.64 L633.82,361.82 L637.08,365.01 L640.35,368.19 L643.64,371.38 L646.95,374.56 L650.27,377.75 L653.62,380.93 L656.97,384.12 L660.35,387.30 L663.74,390.49 L667.15,393.67 L670.57,396.86 L674.01,400.04 L677.47,403.23 L680.95,406.41 L684.44,409.60 L687.95,412.78 L691.48,415.97 L695.03,419.15" fill="none" stroke="#1a1a1a" stroke-width="0.75"/>
<text x="451.57" y="149.15" font-size="14.1" text-anchor="middle" fill="#000" dominant-baseline="central" transform="rotate(60.0 451.57 149.15)">120</text>
<path d="M507.90,164.35 L509.92,166.99 L511.95,169.63 L514.00,172.27 L516.05,174.91 L518.11,177.55 L520.18,180.19 L522.26,182.83 L524.36,185.47 L526.46,188.11 L528.57,190.75 L530.69,193.39 L532.82,196.03 L534.96,198.67 L537.12,201.31 L539.28,203.95 L541.45,206.59 L543.63,209.23 L545.83,211.87 L548.03,214.51 L550.24,217.15 L552.47,219.79 L554.70,222.42 L556.94,225.06 L559.20,227.70 L561.46,230.34 L563.74,232.98 L566.02,235.62 L568.32,238.26 L570.62,240.90 L572.94,243.54 L575.27,246.18 L577.61,248.82 L579.96,251.46 L582.31,254.10 L584.68,256.74 L587.06,259.38 L589.45,262.02 L591.86,264.66 L594.27,267.30 L596.69,269.94 L599.13,272.58 L601.57,275.22 L604.02,277.86 L606.49,280.50 L608.97,283.14 L611.46,285.78 L613.95,288.42 L616.46,291.06 L618.98,293.70 L621.52,296.34 L624.06,298.98 L626.61,301.62 L629.18,304.26 L631.75,306.90 L634.34,309.54 L636.94,312.18 L639.55,314.82 L642.17,317.46 L644.80,320.10 L647.44,322.74 L650.09,325.38 L652.76,328.02 L655.44,330.66 L658.12,333.30 L660.82,335.94 L663.53,338.58 L666.26,341.22 L668.99,343.86 L671.73,346.50 L674.49,349.14 L677.26,351.78 L680.04,354.42 L682.83,357.06 L685.63,359.70 L688.45,362.34 L691.27,364.98 L694.11,367.62 L696.96,370.26 L699.82,372.90 L702.69,375.54" fill="none" stroke="#1a1a1a" stroke-width="0.75"/>
<text x="496.45" y="149.15" font-size="14.1" text-anchor="middle" fill="#000" dominant-baseline="central" transform="rotate(60.0 496.45 149.15)">130</text>
<path d="M553.38,164.35 L555.00,166.36 L556.63,168.37 L558.26,170.38 L559.90,172.39 L561.54,174.40 L563.19,176.41 L564.84,178.42 L566.50,180.43 L568.17,182.44 L569.84,184.45 L571.52,186.46 L573.21,188.47 L574.90,190.48 L576.59,192.49 L578.29,194.51 L580.00,196.52 L581.72,198.53 L583.44,200.54 L585.16,202.55 L586.90,204.56 L588.63,206.57 L590.38,208.58 L592.13,210.59 L593.89,212.60 L595.65,214.61 L597.42,216.62 L599.19,218.63 L600.97,220.64 L602.76,222.65 L604.55,224.66 L606.35,226.67 L608.16,228.69 L609.97,230.70 L611.79,232.71 L613.61,234.72 L615.44,236.73 L617.28,238.74 L619.12,240.75 L620.97,242.76 L622.82,244.77 L624.68,246.78 L626.55,248.79 L628.43,250.80 L630.31,252.81 L632.19,254.82 L634.08,256.83 L635.98,258.84 L637.89,260.86 L639.80,262.87 L641.72,264.88 L643.64,266.89 L645.57,268.90 L647.51,270.91 L649.45,272.92 L651.40,274.93 L653.36,276.94 L655.32,278.95 L657.29,280.96 L659.27,282.97 L661.25,284.98 L663.24,286.99 L665.23,289.00 L667.24,291.01 L669.24,293.02 L671.26,295.04 L673.28,297.05 L675.31,299.06 L677.34,301.07 L679.38,303.08 L681.43,305.09 L683.48,307.10 L685.54,309.11 L687.61,311.12 L689.69,313.13 L691.77,315.14 L693.85,317.15 L695.95,319.16 L698.05,321.17 L700.15,323.18 L702.27,325.19" fill="none" stroke="#1a1a1a" stroke-width="0.75"/>
<text x="541.33" y="149.15" font-size="14.1" text-anchor="middle" fill="#000" dominant-baseline="central" transform="rotate(60.0 541.33 149.15)">140</text>
<path d="M598.87,164.35 L599.94,165.61 L601.01,166.88 L602.08,168.15 L603.16,169.41 L604.24,170.68 L605.32,171.94 L606.40,173.21 L607.49,174.48 L608.58,175.74 L609.67,177.01 L610.76,178.28 L611.86,179.54 L612.96,180.81 L614.06,182.07 L615.16,183.34 L616.27,184.61 L617.38,185.87 L618.49,187.14 L619.60,188.41 L620.72,189.67 L621.83,190.94 L622.95,192.20 L624.08,193.47 L625.20,194.74 L626.33,196.00 L627.46,197.27 L628.59,198.53 L629.72,199.80 L630.86,201.07 L632.00,202.33 L633.14,203.60 L634.29,204.87 L635.44,206.13 L636.58,207.40 L637.74,208.66 L638.89,209.93 L640.05,211.20 L641.21,212.46 L642.37,213.73 L643.53,215.00 L644.70,216.26 L645.87,217.53 L647.04,218.79 L648.21,220.06 L649.39,221.33 L650.57,222.59 L651.75,223.86 L652.94,225.13 L654.12,226.39 L655.31,227.66 L656.50,228.92 L657.70,230.19 L658.89,231.46 L660.09,232.72 L661.29,233.99 L662.50,235.26 L663.70,236.52 L664.91,237.79 L666.12,239.05 L667.34,240.32 L668.56,241.59 L669.78,242.85 L671.00,244.12 L672.22,245.39 L673.45,246.65 L674.68,247.92 L675.91,249.18 L677.14,250.45 L678.38,251.72 L679.62,252.98 L680.86,254.25 L682.11,255.52 L683.35,256.78 L684.60,258.05 L685.86,259.31 L687.11,260.58 L688.37,261.85 L689.63,263.11 L690.89,264.38 L692.16,265.65" fill="none" stroke="#1a1a1a" stroke-width="0.75"/>
<text x="586.21" y="149.15" font-size="14.1" text-anchor="middle" fill="#000" dominant-baseline="central" transform="rotate(60.0 586.21 149.15)">150</text>
<path d="M644.35,164.35 L644.95,165.03 L645.56,165.71 L646.16,166.39 L646.77,167.07 L647.37,167.76 L647.98,168.44 L648.59,169.12 L649.19,169.80 L649.80,170.48 L650.41,171.17 L651.02,171.85 L651.63,172.53 L652.24,173.21 L652.86,173.89 L653.47,174.58 L654.08,175.26 L654.70,175.94 L655.31,176.62 L655.93,177.30 L656.55,177.99 L657.16,178.67 L657.78,179.35 L658.40,180.03 L659.02,180.71 L659.64,181.40 L660.26,182.08 L660.88,182.76 L661.50,183.44 L662.13,184.12 L662.75,184.81 L663.37,185.49 L664.00,186.17 L664.63,186.85 L665.25,187.53 L665.88,188.22 L666.51,188.90 L667.14,189.58 L667.77,190.26 L668.40,190.95 L669.03,191.63 L669.66,192.31 L670.29,192.99 L670.92,193.67 L671.56,194.36 L672.19,195.04 L672.83,195.72 L673.46,196.40 L674.10,197.08 L674.74,197.77 L675.37,198.45 L676.01,199.13 L676.65,199.81 L677.29,200.49 L677.93,201.18 L678.58,201.86 L679.22,202.54 L679.86,203.22 L680.50,203.90 L681.15,204.59 L681.79,205.27 L682.44,205.95 L683.09,206.63 L683.73,207.31 L684.38,208.00 L685.03,208.68 L685.68,209.36 L686.33,210.04 L686.98,210.72 L687.63,211.41 L688.29,212.09 L688.94,212.77 L689.59,213.45 L690.25,214.13 L690.91,214.82 L691.56,215.50 L692.22,216.18 L692.88,216.86 L693.53,217.54 L694.19,218.23 L694.85,218.91" fill="none" stroke="#1a1a1a" stroke-width="0.75"/>
<text x="631.10" y="149.15" font-size="14.1" text-anchor="middle" fill="#000" dominant-baseline="central" transform="rotate(60.0 631.10 149.15)">160</text>
<path d="M661.82,133.22 L662.17,133.61 L662.51,134.00 L662.85,134.38 L663.19,134.77 L663.53,135.16 L663.87,135.55 L664.22,135.94 L664.56,136.33 L664.90,136.72 L665.25,137.11 L665.59,137.50 L665.93,137.89 L666.28,138.28 L666.62,138.66 L666.96,139.05 L667.31,139.44 L667.65,139.83 L668.00,140.22 L668.34,140.61 L668.69,141.00 L669.03,141.39 L669.38,141.78 L669.73,142.17 L670.07,142.56 L670.42,142.94 L670.77,143.33 L671.11,143.72 L671.46,144.11 L671.81,144.50 L672.15,144.89 L672.50,145.28 L672.85,145.67 L673.20,146.06 L673.55,146.45 L673.90,146.84 L674.25,147.23 L674.59,147.61 L674.94,148.00 L675.29,148.39 L675.64,148.78 L675.99,149.17 L676.34,149.56 L676.70,149.95 L677.05,150.34 L677.40,150.73 L677.75,151.12 L678.10,151.51 L678.45,151.89 L678.80,152.28 L679.16,152.67 L679.51,153.06 L679.86,153.45 L680.21,153.84 L680.57,154.23 L680.92,154.62 L681.28,155.01 L681.63,155.40 L681.98,155.79 L682.34,156.17 L682.69,156.56 L683.05,156.95 L683.40,157.34 L683.76,157.73 L684.11,158.12 L684.47,158.51 L684.82,158.90 L685.18,159.29 L685.54,159.68 L685.89,160.07 L686.25,160.46 L686.61,160.84 L686.97,161.23 L687.32,161.62 L687.68,162.01 L688.04,162.40 L688.40,162.79 L688.76,163.18 L689.11,163.57 L689.47,163.96 L689.83,164.35" fill="none" stroke="#1a1a1a" stroke-width="0.75"/>
<path d="M677.40,901.20 L677.21,895.00 L677.06,888.80 L676.93,882.60 L676.83,876.40 L676.75,870.20 L676.68,864.00 L676.66,857.80 L676.64,851.61 L676.64,845.41 L676.64,839.21 L676.66,833.01 L676.69,826.81 L676.72,820.61 L676.76,814.41 L676.81,808.21 L676.86,802.01 L676.91,795.81 L676.95,789.61 L676.99,783.41 L677.07,777.21 L677.11,771.01 L677.14,764.81 L677.20,758.62 L677.29,752.42 L677.38,746.22 L677.47,740.02 L677.57,733.82 L677.67,727.62 L677.77,721.42 L677.87,715.22 L677.96,709.02 L678.05,702.82 L678.13,696.62 L678.21,690.42 L678.23,684.22 L678.27,678.02 L678.30,671.82 L678.31,665.63 L678.30,659.43 L678.26,653.23 L678.21,647.03 L678.13,640.83 L678.02,634.63 L677.89,628.43 L677.73,622.23 L677.53,616.03 L677.30,609.83 L677.03,603.63 L676.72,597.43 L676.37,591.23 L675.98,585.03 L675.55,578.83 L675.07,572.64 L674.53,566.44 L673.95,560.24 L673.38,554.04 L672.65,547.84 L671.86,541.64 L671.01,535.44 L670.10,529.24 L669.26,523.04 L668.25,516.84 L667.18,510.64 L666.04,504.44 L664.83,498.24 L663.54,492.04 L662.17,485.84 L660.73,479.65 L659.21,473.45 L657.61,467.25 L655.92,461.05 L654.15,454.85 L652.27,448.65 L650.35,442.45 L648.33,436.25 L646.22,430.05 L644.01,423.85 L641.72,417.65 L639.34,411.45 L636.88,405.25" fill="none" stroke="#555" stroke-width="0.45"/>
<text x="636.88" y="398.95" font-size="16.8" text-anchor="middle" fill="#000" dominant-baseline="central">32</text>
<path d="M643.92,901.20 L643.45,895.00 L643.01,888.80 L642.61,882.60 L642.23,876.40 L641.86,870.20 L641.53,864.00 L641.20,857.80 L640.88,851.61 L640.58,845.41 L640.28,839.21 L639.99,833.01 L639.70,826.81 L639.41,820.61 L639.11,814.41 L638.81,808.21 L638.55,802.01 L638.30,795.81 L638.09,789.61 L637.86,783.41 L637.63,777.21 L637.39,771.01 L637.16,764.81 L636.91,758.62 L636.66,752.42 L636.40,746.22 L636.12,740.02 L635.83,733.82 L635.51,727.62 L635.18,721.42 L634.82,715.22 L634.44,709.02 L634.03,702.82 L633.59,696.62 L633.12,690.42 L632.61,684.22 L632.06,678.02 L631.42,671.82 L630.78,665.63 L630.10,659.43 L629.37,653.23 L628.59,647.03 L627.76,640.83 L626.87,634.63 L625.93,628.43 L624.99,622.23 L623.91,616.03 L622.77,609.83 L621.57,603.63 L620.29,597.43 L618.94,591.23 L617.52,585.03 L616.03,578.83 L614.46,572.64 L612.81,566.44 L611.09,560.24 L609.28,554.04 L607.40,547.84 L605.43,541.64 L603.38,535.44 L601.25,529.24 L599.03,523.04 L596.72,516.84 L594.32,510.64 L591.84,504.44 L589.26,498.24 L586.59,492.04 L583.83,485.84 L580.98,479.65 L578.06,473.45 L575.05,467.25 L571.95,461.05 L568.77,454.85 L565.51,448.65 L562.18,442.45 L558.77,436.25 L555.28,430.05 L551.73,423.85 L548.11,417.65 L544.43,411.45 L540.68,405.25" fill="none" stroke="#555" stroke-width="0.45"/>
<text x="540.68" y="398.95" font-size="16.8" text-anchor="middle" fill="#000" dominant-baseline="central">28</text>
<path d="M610.62,901.20 L609.80,895.00 L609.01,888.80 L608.25,882.60 L607.51,876.40 L606.78,870.20 L606.08,864.00 L605.38,857.80 L604.68,851.61 L604.02,845.41 L603.40,839.21 L602.79,833.01 L602.19,826.81 L601.60,820.61 L601.01,814.41 L600.42,808.21 L599.83,802.01 L599.22,795.81 L598.65,789.61 L598.03,783.41 L597.40,777.21 L596.75,771.01 L596.07,764.81 L595.37,758.62 L594.64,752.42 L593.88,746.22 L593.08,740.02 L592.24,733.82 L591.36,727.62 L590.44,721.42 L589.47,715.22 L588.44,709.02 L587.37,702.82 L586.24,696.62 L585.05,690.42 L583.80,684.22 L582.48,678.02 L581.09,671.82 L579.64,665.63 L578.11,659.43 L576.51,653.23 L574.83,647.03 L573.07,640.83 L571.18,634.63 L569.33,628.43 L567.31,622.23 L565.22,616.03 L563.05,609.83 L560.78,603.63 L558.43,597.43 L555.99,591.23 L553.46,585.03 L550.84,578.83 L548.14,572.64 L545.34,566.44 L542.45,560.24 L539.47,554.04 L536.40,547.84 L533.25,541.64 L530.01,535.44 L526.68,529.24 L523.28,523.04 L519.79,516.84 L516.22,510.64 L512.62,504.44 L508.92,498.24 L505.15,492.04 L501.32,485.84 L497.43,479.65 L493.48,473.45 L489.47,467.25 L485.42,461.05 L481.32,454.85 L477.18,448.65 L472.99,442.45 L468.77,436.25 L464.52,430.05 L460.24,423.85 L455.93,417.65 L451.60,411.45 L447.25,405.25" fill="none" stroke="#555" stroke-width="0.45"/>
<text x="447.25" y="398.95" font-size="16.8" text-anchor="middle" fill="#000" dominant-baseline="central">24</text>
<path d="M577.29,901.20 L576.16,895.00 L575.03,888.80 L573.88,882.60 L572.75,876.40 L571.66,870.20 L570.57,864.00 L569.54,857.80 L568.51,851.61 L567.49,845.41 L566.48,839.21 L565.47,833.01 L564.45,826.81 L563.43,820.61 L562.39,814.41 L561.34,808.21 L560.27,802.01 L559.17,795.81 L558.04,789.61 L556.93,783.41 L555.74,777.21 L554.51,771.01 L553.25,764.81 L551.93,758.62 L550.56,752.42 L549.14,746.22 L547.67,740.02 L546.13,733.82 L544.53,727.62 L542.86,721.42 L541.12,715.22 L539.31,709.02 L537.42,702.82 L535.46,696.62 L533.39,690.42 L531.28,684.22 L529.09,678.02 L526.78,671.82 L524.39,665.63 L521.92,659.43 L519.36,653.23 L516.70,647.03 L513.96,640.83 L511.13,634.63 L508.20,628.43 L505.19,622.23 L502.08,616.03 L498.89,609.83 L495.61,603.63 L492.24,597.43 L488.79,591.23 L485.26,585.03 L481.65,578.83 L477.96,572.64 L474.20,566.44 L470.37,560.24 L466.46,554.04 L462.50,547.84 L458.47,541.64 L454.39,535.44 L450.25,529.24 L446.11,523.04 L441.89,516.84 L437.62,510.64 L433.31,504.44 L428.98,498.24 L424.61,492.04 L420.21,485.84 L415.79,479.65 L411.35,473.45 L406.89,467.25 L402.42,461.05 L397.94,454.85 L393.45,448.65 L388.95,442.45 L384.45,436.25 L379.95,430.05 L375.46,423.85 L370.97,417.65 L366.48,411.45 L362.01,405.25" fill="none" stroke="#555" stroke-width="0.45"/>
<text x="362.01" y="398.95" font-size="16.8" text-anchor="middle" fill="#000" dominant-baseline="central">20</text>
<path d="M543.81,901.20 L542.38,895.00 L540.97,888.80 L539.57,882.60 L538.16,876.40 L536.73,870.20 L535.32,864.00 L533.88,857.80 L532.39,851.61 L530.85,845.41 L529.31,839.21 L527.75,833.01 L526.17,826.81 L524.57,820.61 L522.94,814.41 L521.28,808.21 L519.58,802.01 L517.84,795.81 L516.05,789.61 L514.22,783.41 L512.33,777.21 L510.38,771.01 L508.37,764.81 L506.30,758.62 L504.16,752.42 L501.95,746.22 L499.67,740.02 L497.30,733.82 L494.86,727.62 L492.33,721.42 L489.72,715.22 L487.03,709.02 L484.25,702.82 L481.38,696.62 L478.43,690.42 L475.39,684.22 L472.26,678.02 L469.04,671.82 L465.73,665.63 L462.34,659.43 L458.87,653.23 L455.31,647.03 L451.68,640.83 L447.96,634.63 L444.17,628.43 L440.30,622.23 L436.37,616.03 L432.37,609.83 L428.31,603.63 L424.18,597.43 L420.00,591.23 L415.77,585.03 L411.49,578.83 L407.17,572.64 L402.80,566.44 L398.40,560.24 L393.96,554.04 L389.50,547.84 L385.00,541.64 L380.49,535.44 L375.96,529.24 L371.41,523.04 L366.85,516.84 L362.28,510.64 L357.77,504.44 L353.19,498.24 L348.62,492.04 L344.04,485.84 L339.47,479.65 L334.91,473.45 L330.35,467.25 L325.81,461.05 L321.28,454.85 L316.77,448.65 L312.27,442.45 L307.79,436.25 L303.33,430.05 L298.90,423.85 L294.49,417.65 L290.11,411.45 L285.75,405.25" fill="none" stroke="#555" stroke-width="0.45"/>
<text x="285.75" y="398.95" font-size="16.8" text-anchor="middle" fill="#000" dominant-baseline="central">16</text>
<path d="M510.70,901.20 L508.86,895.00 L507.02,888.80 L505.17,882.60 L503.30,876.40 L501.41,870.20 L499.52,864.00 L497.58,857.80 L495.61,851.61 L493.60,845.41 L491.55,839.21 L489.44,833.01 L487.28,826.81 L485.06,820.61 L482.77,814.41 L480.37,808.21 L477.91,802.01 L475.40,795.81 L472.83,789.61 L470.19,783.41 L467.49,777.21 L464.72,771.01 L461.87,764.81 L458.95,758.62 L455.95,752.42 L452.87,746.22 L449.70,740.02 L446.48,733.82 L443.17,727.62 L439.77,721.42 L436.29,715.22 L432.73,709.02 L429.10,702.82 L425.38,696.62 L421.59,690.42 L417.73,684.22 L413.79,678.02 L409.79,671.82 L405.72,665.63 L401.59,659.43 L397.39,653.23 L393.15,647.03 L388.85,640.83 L384.50,634.63 L380.10,628.43 L375.66,622.23 L371.19,616.03 L366.68,609.83 L362.14,603.63 L357.58,597.43 L352.99,591.23 L348.39,585.03 L343.76,578.83 L339.13,572.64 L334.48,566.44 L329.83,560.24 L325.17,554.04 L320.51,547.84 L315.86,541.64 L311.21,535.44 L306.56,529.24 L301.93,523.04 L297.30,516.84 L292.69,510.64 L288.10,504.44 L283.52,498.24 L278.96,492.04 L274.42,485.84 L269.91,479.65 L265.41,473.45 L260.95,467.25 L256.51,461.05 L252.10,454.85 L247.72,448.65 L243.38,442.45 L239.06,436.25 L234.78,430.05 L230.53,423.85 L226.32,417.65 L222.15,411.45 L218.01,405.25" fill="none" stroke="#555" stroke-width="0.45"/>
<text x="218.01" y="398.95" font-size="16.8" text-anchor="middle" fill="#000" dominant-baseline="central">12</text>
<path d="M477.79,901.20 L475.46,895.00 L473.11,888.80 L470.74,882.60 L468.32,876.40 L465.86,870.20 L463.38,864.00 L460.84,857.80 L458.25,851.61 L455.60,845.41 L452.90,839.21 L450.13,833.01 L447.30,826.81 L444.40,820.61 L441.43,814.41 L438.39,808.21 L435.27,802.01 L432.07,795.81 L428.80,789.61 L425.44,783.41 L422.00,777.21 L418.48,771.01 L414.87,764.81 L411.19,758.62 L407.41,752.42 L403.60,746.22 L399.66,740.02 L395.63,733.82 L391.54,727.62 L387.38,721.42 L383.17,715.22 L378.89,709.02 L374.56,702.82 L370.18,696.62 L365.75,690.42 L361.27,684.22 L356.75,678.02 L352.20,671.82 L347.60,665.63 L342.98,659.43 L338.32,653.23 L333.65,647.03 L328.95,640.83 L324.23,634.63 L319.50,628.43 L314.76,622.23 L310.01,616.03 L305.25,609.83 L300.49,603.63 L295.74,597.43 L290.98,591.23 L286.24,585.03 L281.50,578.83 L276.77,572.64 L272.05,566.44 L267.35,560.24 L262.66,554.04 L258.00,547.84 L253.35,541.64 L248.73,535.44 L244.13,529.24 L239.55,523.04 L235.00,516.84 L230.48,510.64 L225.99,504.44 L221.53,498.24 L217.10,492.04 L212.71,485.84 L208.35,479.65 L204.02,473.45 L199.73,467.25 L195.48,461.05 L191.27,454.85 L187.09,448.65 L182.95,442.45 L178.86,436.25 L174.80,430.05 L170.79,423.85 L166.81,417.65 L162.88,411.45 L159.00,405.25" fill="none" stroke="#555" stroke-width="0.45"/>
<text x="159.00" y="398.95" font-size="16.8" text-anchor="middle" fill="#000" dominant-baseline="central">8</text>
<path d="M615.23,885.26 L728.62,619.27" fill="none" stroke="#1a1a1a" stroke-width="0.75" stroke-dasharray="3.4,6.4"/>
<text x="611.99" y="892.73" font-size="14" text-anchor="middle" fill="#000" dominant-baseline="central" transform="rotate(-68.2 611.99 892.73)">20</text>
<path d="M545.94,885.26 L680.83,585.99" fill="none" stroke="#1a1a1a" stroke-width="0.75" stroke-dasharray="3.4,6.4"/>
<text x="542.48" y="892.73" font-size="14" text-anchor="middle" fill="#000" dominant-baseline="central" transform="rotate(-66.9 542.48 892.73)">12</text>
<path d="M493.43,885.26 L633.73,585.99" fill="none" stroke="#1a1a1a" stroke-width="0.75" stroke-dasharray="3.4,6.4"/>
<text x="489.82" y="892.73" font-size="14" text-anchor="middle" fill="#000" dominant-baseline="central" transform="rotate(-65.9 489.82 892.73)">8</text>
<path d="M435.32,885.26 L581.45,585.99" fill="none" stroke="#1a1a1a" stroke-width="0.75" stroke-dasharray="3.4,6.4"/>
<text x="431.54" y="892.73" font-size="14" text-anchor="middle" fill="#000" dominant-baseline="central" transform="rotate(-64.9 431.54 892.73)">5</text>
<path d="M375.42,885.26 L527.39,585.99" fill="none" stroke="#1a1a1a" stroke-width="0.75" stroke-dasharray="3.4,6.4"/>
<text x="371.47" y="892.73" font-size="14" text-anchor="middle" fill="#000" dominant-baseline="central" transform="rotate(-63.9 371.47 892.73)">3</text>
<path d="M330.17,885.26 L486.43,585.99" fill="none" stroke="#1a1a1a" stroke-width="0.75" stroke-dasharray="3.4,6.4"/>
<text x="326.09" y="892.73" font-size="14" text-anchor="middle" fill="#000" dominant-baseline="central" transform="rotate(-63.2 326.09 892.73)">2</text>
<path d="M257.21,885.26 L420.14,585.99" fill="none" stroke="#1a1a1a" stroke-width="0.75" stroke-dasharray="3.4,6.4"/>
<text x="252.93" y="892.73" font-size="14" text-anchor="middle" fill="#000" dominant-baseline="central" transform="rotate(-62.1 252.93 892.73)">1</text>
<path d="M133.42,901.20 L133.42,911.50" fill="none" stroke="#333" stroke-width="0.8"/>
<text x="133.42" y="933.00" font-size="20" text-anchor="middle" fill="#000" dominant-baseline="central">-30</text>
<path d="M218.93,901.20 L218.93,911.50" fill="none" stroke="#333" stroke-width="0.8"/>
<text x="218.93" y="933.00" font-size="20" text-anchor="middle" fill="#000" dominant-baseline="central">-20</text>
<path d="M304.44,901.20 L304.44,911.50" fill="none" stroke="#333" stroke-width="0.8"/>
<text x="304.44" y="933.00" font-size="20" text-anchor="middle" fill="#000" dominant-baseline="central">-10</text>
<path d="M389.95,901.20 L389.95,911.50" fill="none" stroke="#333" stroke-width="0.8"/>
<text x="389.95" y="933.00" font-size="20" text-anchor="middle" fill="#000" dominant-baseline="central">0</text>
<path d="M475.46,901.20 L475.46,911.50" fill="none" stroke="#333" stroke-width="0.8"/>
<text x="475.46" y="933.00" font-size="20" text-anchor="middle" fill="#000" dominant-baseline="central">10</text>
<path d="M560.96,901.20 L560.96,911.50" fill="none" stroke="#333" stroke-width="0.8"/>
<text x="560.96" y="933.00" font-size="20" text-anchor="middle" fill="#000" dominant-baseline="central">20</text>
<path d="M646.47,901.20 L646.47,911.50" fill="none" stroke="#333" stroke-width="0.8"/>
<text x="646.47" y="933.00" font-size="20" text-anchor="middle" fill="#000" dominant-baseline="central">30</text>
<path d="M731.98,901.20 L731.98,911.50" fill="none" stroke="#333" stroke-width="0.8"/>
<text x="731.98" y="933.00" font-size="20" text-anchor="middle" fill="#000" dominant-baseline="central">40</text>
<text x="487.00" y="958.50" font-size="17.9" text-anchor="middle" fill="#000" dominant-baseline="central">Temperature (C)</text>
<text x="46.50" y="537.50" font-size="17.8" text-anchor="middle" fill="#000" dominant-baseline="central" transform="rotate(-90.0 46.50 537.50)">P (hPa)</text>
<text x="383.80" y="100.40" font-size="21.1" text-anchor="middle" fill="#000" dominant-baseline="central">ZINDER at 2018-09-22_00:00:00</text>
<text x="385.00" y="123.80" font-size="10.55" text-anchor="middle" fill="#a0522d" dominant-baseline="central" class="c">Plcl=678 Tlcl[C]=3 Shox=2 Pwat[cm]=3 Cape[J]= 0</text>
<path d="M870.50,132.70 L870.50,901.20" fill="none" stroke="#1a1a1a" stroke-width="1.1"/>
<path d="M870.50,889.56 L881.00,889.56" fill="none" stroke="#1a1a1a" stroke-width="0.8"/>
<text x="894.20" y="889.66" font-size="19.5" text-anchor="start" fill="#000" dominant-baseline="central">0</text>
<path d="M870.50,850.38 L881.00,850.38" fill="none" stroke="#1a1a1a" stroke-width="0.8"/>
<text x="894.20" y="850.48" font-size="19.5" text-anchor="start" fill="#000" dominant-baseline="central">1</text>
<path d="M870.50,810.29 L881.00,810.29" fill="none" stroke="#1a1a1a" stroke-width="0.8"/>
<text x="894.20" y="810.39" font-size="19.5" text-anchor="start" fill="#000" dominant-baseline="central">2</text>
<path d="M870.50,769.23 L881.00,769.23" fill="none" stroke="#1a1a1a" stroke-width="0.8"/>
<text x="894.20" y="769.33" font-size="19.5" text-anchor="start" fill="#000" dominant-baseline="central">3</text>
<path d="M870.50,727.17 L881.00,727.17" fill="none" stroke="#1a1a1a" stroke-width="0.8"/>
<text x="894.20" y="727.27" font-size="19.5" text-anchor="start" fill="#000" dominant-baseline="central">4</text>
<path d="M870.50,684.05 L881.00,684.05" fill="none" stroke="#1a1a1a" stroke-width="0.8"/>
<text x="894.20" y="684.15" font-size="19.5" text-anchor="start" fill="#000" dominant-baseline="central">5</text>
<path d="M870.50,639.81 L881.00,639.81" fill="none" stroke="#1a1a1a" stroke-width="0.8"/>
<text x="894.20" y="639.91" font-size="19.5" text-anchor="start" fill="#000" dominant-baseline="central">6</text>
<path d="M870.50,594.43 L881.00,594.43" fill="none" stroke="#1a1a1a" stroke-width="0.8"/>
<text x="894.20" y="594.53" font-size="19.5" text-anchor="start" fill="#000" dominant-baseline="central">7</text>
<path d="M870.50,547.82 L881.00,547.82" fill="none" stroke="#1a1a1a" stroke-width="0.8"/>
<text x="894.20" y="547.92" font-size="19.5" text-anchor="start" fill="#000" dominant-baseline="central">8</text>
<path d="M870.50,499.95 L881.00,499.95" fill="none" stroke="#1a1a1a" stroke-width="0.8"/>
<text x="894.20" y="500.05" font-size="19.5" text-anchor="start" fill="#000" dominant-baseline="central">9</text>
<path d="M870.50,450.67 L881.00,450.67" fill="none" stroke="#1a1a1a" stroke-width="0.8"/>
<text x="893.00" y="450.77" font-size="19.5" text-anchor="start" fill="#000" dominant-baseline="central">10</text>
<path d="M870.50,400.01 L881.00,400.01" fill="none" stroke="#1a1a1a" stroke-width="0.8"/>
<text x="893.00" y="400.11" font-size="19.5" text-anchor="start" fill="#000" dominant-baseline="central">11</text>
<path d="M870.50,349.54 L881.00,349.54" fill="none" stroke="#1a1a1a" stroke-width="0.8"/>
<text x="893.00" y="349.64" font-size="19.5" text-anchor="start" fill="#000" dominant-baseline="central">12</text>
<path d="M870.50,297.43 L881.00,297.43" fill="none" stroke="#1a1a1a" stroke-width="0.8"/>
<text x="893.00" y="297.53" font-size="19.5" text-anchor="start" fill="#000" dominant-baseline="central">13</text>
<path d="M870.50,246.25 L881.00,246.25" fill="none" stroke="#1a1a1a" stroke-width="0.8"/>
<text x="893.00" y="246.35" font-size="19.5" text-anchor="start" fill="#000" dominant-baseline="central">14</text>
<path d="M870.50,195.10 L881.00,195.10" fill="none" stroke="#1a1a1a" stroke-width="0.8"/>
<text x="893.00" y="195.20" font-size="19.5" text-anchor="start" fill="#000" dominant-baseline="central">15</text>
<path d="M870.50,143.82 L881.00,143.82" fill="none" stroke="#1a1a1a" stroke-width="0.8"/>
<text x="893.00" y="143.92" font-size="19.5" text-anchor="start" fill="#000" dominant-baseline="central">16</text>
<text x="854.70" y="542.20" font-size="19.7" text-anchor="middle" fill="#000" dominant-baseline="central" transform="rotate(90.0 854.70 542.20)">Height (Km)</text>
<path d="M542.00,145.50 L517.50,175.60 L493.10,204.40 L468.10,233.75 L442.50,263.75 L418.00,293.75 L379.40,338.10 L361.90,359.40 L330.00,398.00 L328.50,400.00 L336.25,432.50 L348.10,475.00 L359.00,510.00 L385.00,587.50 L397.50,620.00 L413.75,661.25 L431.25,702.50 L451.90,748.00 L463.10,770.00 L477.50,798.75 L495.00,831.25 L510.00,857.50 L528.10,889.40" fill="none" stroke="#000" stroke-width="1.1" stroke-linejoin="round"/>
<path d="M323.10,162.50 L300.25,220.00 L306.25,278.10 L336.25,333.75 L371.90,388.10 L372.25,441.25 L333.10,492.25 L334.75,541.90 L371.00,589.40 L365.60,636.25 L483.10,681.75 L510.00,725.60 L522.50,758.75 L505.00,798.75 L495.00,831.25 L487.50,855.00 L486.90,861.25 L487.75,866.90 L489.60,870.00" fill="none" stroke="#4169e1" stroke-width="1.5" stroke-linejoin="round" stroke-linecap="round"/>
<path d="M360.00,162.50 L349.00,220.25 L355.60,278.10 L377.50,333.75 L405.00,387.50 L436.25,440.00 L465.00,491.90 L496.25,550.00 L520.00,591.25 L532.50,635.00 L534.75,681.25 L547.50,725.60 L577.50,758.75 L598.00,775.00 L638.75,809.40 L687.50,846.25 L691.00,849.40 L693.75,852.50 L695.80,855.80 L696.90,859.40 L697.00,862.50 L696.00,865.60 L694.00,868.00 L691.00,870.00" fill="none" stroke="#000" stroke-width="1.7" stroke-linejoin="round" stroke-linecap="round"/>
<path d="M784.50,133.20 L784.50,890.20" fill="none" stroke="#8a8a8a" stroke-width="0.8"/>
<circle cx="784.70" cy="182.75" r="2.1" fill="#000"/>
<circle cx="784.70" cy="260.40" r="2.1" fill="#000"/>
<circle cx="784.70" cy="339.60" r="2.1" fill="#000"/>
<circle cx="784.70" cy="416.90" r="2.1" fill="#000"/>
<circle cx="784.70" cy="492.25" r="2.1" fill="#000"/>
<circle cx="784.70" cy="565.60" r="2.1" fill="#000"/>
<circle cx="784.70" cy="635.25" r="2.1" fill="#000"/>
<circle cx="784.70" cy="662.50" r="2.1" fill="#000"/>
<circle cx="784.70" cy="689.40" r="2.1" fill="#000"/>
<circle cx="784.70" cy="715.50" r="2.1" fill="#000"/>
<circle cx="784.70" cy="741.50" r="2.1" fill="#000"/>
<circle cx="784.70" cy="767.25" r="2.1" fill="#000"/>
<circle cx="784.70" cy="779.75" r="2.1" fill="#000"/>
<circle cx="784.70" cy="792.25" r="2.1" fill="#000"/>
<circle cx="784.70" cy="804.70" r="2.1" fill="#000"/>
<circle cx="784.70" cy="817.00" r="2.1" fill="#000"/>
<circle cx="784.70" cy="829.25" r="2.1" fill="#000"/>
<circle cx="784.70" cy="841.40" r="2.1" fill="#000"/>
<circle cx="784.70" cy="853.70" r="2.1" fill="#000"/>
<circle cx="784.70" cy="865.60" r="2.1" fill="#000"/>
<circle cx="784.70" cy="877.60" r="2.1" fill="#000"/>
<circle cx="784.70" cy="889.50" r="2.1" fill="#000"/>
<circle cx="784.70" cy="265.65" r="3.9" fill="none" stroke="#333" stroke-width="0.7"/>
<circle cx="784.70" cy="359.61" r="3.9" fill="none" stroke="#333" stroke-width="0.7"/>
<circle cx="784.70" cy="432.49" r="3.9" fill="none" stroke="#333" stroke-width="0.7"/>
<circle cx="784.70" cy="492.03" r="3.9" fill="none" stroke="#333" stroke-width="0.7"/>
<circle cx="784.70" cy="585.99" r="3.9" fill="none" stroke="#333" stroke-width="0.7"/>
<circle cx="784.70" cy="658.88" r="3.9" fill="none" stroke="#333" stroke-width="0.7"/>
<circle cx="784.70" cy="768.77" r="3.9" fill="none" stroke="#333" stroke-width="0.7"/>
<circle cx="784.70" cy="832.18" r="3.9" fill="none" stroke="#333" stroke-width="0.7"/>
<circle cx="784.70" cy="885.26" r="3.9" fill="none" stroke="#333" stroke-width="0.7"/>
<path d="M780.80,133.20 A3.9,3.9 0 0 0 788.60,133.20" fill="none" stroke="#333" stroke-width="0.7"/>
<path d="M784.50,162.90 L801.50,194.60" fill="none" stroke="#333" stroke-width="0.7"/>
<path d="M799.40,191.30 L796.20,196.50" fill="none" stroke="#333" stroke-width="0.7"/>
<path d="M784.50,220.40 L748.75,222.50 L742.50,212.25" fill="none" stroke="#333" stroke-width="0.7"/>
<path d="M752.90,222.30 L749.40,217.25" fill="none" stroke="#333" stroke-width="0.7"/>
<path d="M784.50,278.10 L750.00,283.50 L742.25,273.75" fill="none" stroke="#333" stroke-width="0.7"/>
<path d="M753.10,282.90 L746.00,273.50" fill="none" stroke="#333" stroke-width="0.7"/>
<path d="M756.25,282.40 L749.40,272.75" fill="none" stroke="#333" stroke-width="0.7"/>
<path d="M784.50,335.00 L751.50,346.90 L742.25,339.40" fill="none" stroke="#333" stroke-width="0.7"/>
<path d="M754.60,345.75 L745.60,337.75" fill="none" stroke="#333" stroke-width="0.7"/>
<path d="M757.75,344.60 L749.00,336.50" fill="none" stroke="#333" stroke-width="0.7"/>
<path d="M784.50,389.40 L752.50,403.75 L742.50,396.25" fill="none" stroke="#333" stroke-width="0.7"/>
<path d="M755.60,402.40 L746.00,395.25" fill="none" stroke="#333" stroke-width="0.7"/>
<path d="M758.75,401.00 L754.00,397.25" fill="none" stroke="#333" stroke-width="0.7"/>
<path d="M784.50,442.25 L752.50,456.50 L742.50,449.40" fill="none" stroke="#333" stroke-width="0.7"/>
<path d="M755.60,455.10 L750.60,451.90" fill="none" stroke="#333" stroke-width="0.7"/>
<path d="M781.50,493.10 L749.40,496.50 L742.25,486.00" fill="none" stroke="#333" stroke-width="0.7"/>
<path d="M784.50,541.90 L783.50,509.75 L782.25,506.50" fill="none" stroke="#333" stroke-width="0.7"/>
<path d="M783.50,509.75 L788.50,506.90" fill="none" stroke="#333" stroke-width="0.7"/>
<path d="M788.10,588.10 L816.25,573.50" fill="none" stroke="#333" stroke-width="0.7"/>
<path d="M814.00,574.75 L818.75,578.75" fill="none" stroke="#333" stroke-width="0.7"/>
<path d="M786.90,635.60 L820.25,631.25 L827.50,641.25" fill="none" stroke="#333" stroke-width="0.7"/>
<path d="M784.75,680.60 L820.00,690.00 L826.00,700.00" fill="none" stroke="#333" stroke-width="0.7"/>
<path d="M784.75,725.60 L812.00,708.10 L825.60,712.75" fill="none" stroke="#333" stroke-width="0.7"/>
<path d="M809.50,709.75 L817.50,712.50" fill="none" stroke="#333" stroke-width="0.7"/>
<path d="M784.75,758.75 L812.90,736.25 L823.75,741.00" fill="none" stroke="#333" stroke-width="0.7"/>
<path d="M810.60,738.20 L821.25,743.75" fill="none" stroke="#333" stroke-width="0.7"/>
<path d="M786.90,780.00 L817.50,767.75 L829.40,777.75" fill="none" stroke="#333" stroke-width="0.7"/>
<path d="M815.60,768.60 L826.25,775.60" fill="none" stroke="#333" stroke-width="0.7"/>
<path d="M784.75,801.25 L820.25,797.25 L827.25,806.90" fill="none" stroke="#333" stroke-width="0.7"/>
<path d="M817.25,797.60 L820.60,802.50" fill="none" stroke="#333" stroke-width="0.7"/>
<path d="M784.66,822.20 L820.00,829.10 L823.75,840.30" fill="none" stroke="#333" stroke-width="0.7"/>
<path d="M817.20,828.60 L818.10,833.30" fill="none" stroke="#333" stroke-width="0.7"/>
<path d="M784.66,836.75 L818.50,848.40 L820.00,860.60" fill="none" stroke="#333" stroke-width="0.7"/>
<path d="M815.40,847.40 L815.40,853.40" fill="none" stroke="#333" stroke-width="0.7"/>
<path d="M784.75,845.30 L817.25,860.00 L818.50,871.90" fill="none" stroke="#333" stroke-width="0.7"/>
<path d="M814.40,858.75 L814.40,864.70" fill="none" stroke="#333" stroke-width="0.7"/>
<path d="M784.75,853.40 L816.60,869.00 L816.90,880.90" fill="none" stroke="#333" stroke-width="0.7"/>
<path d="M813.50,867.50 L812.90,879.00" fill="none" stroke="#333" stroke-width="0.7"/>
<path d="M784.75,855.60 L816.00,876.25 L815.80,886.00" fill="none" stroke="#333" stroke-width="0.7"/>
<path d="M784.75,859.00 L813.50,874.70 L813.20,884.00" fill="none" stroke="#333" stroke-width="0.7"/>
<path d="M784.75,865.00 L815.40,883.10 L815.00,889.50" fill="none" stroke="#333" stroke-width="0.7"/>
<path d="M812.20,881.20 L811.20,891.00" fill="none" stroke="#333" stroke-width="0.7"/>
<path d="M784.75,867.50 L814.10,888.10 L813.70,895.50" fill="none" stroke="#333" stroke-width="0.7"/>
<path d="M784.75,870.00 L813.50,892.20 L810.70,903.75" fill="none" stroke="#333" stroke-width="0.7"/>
</svg>
</body></html>
